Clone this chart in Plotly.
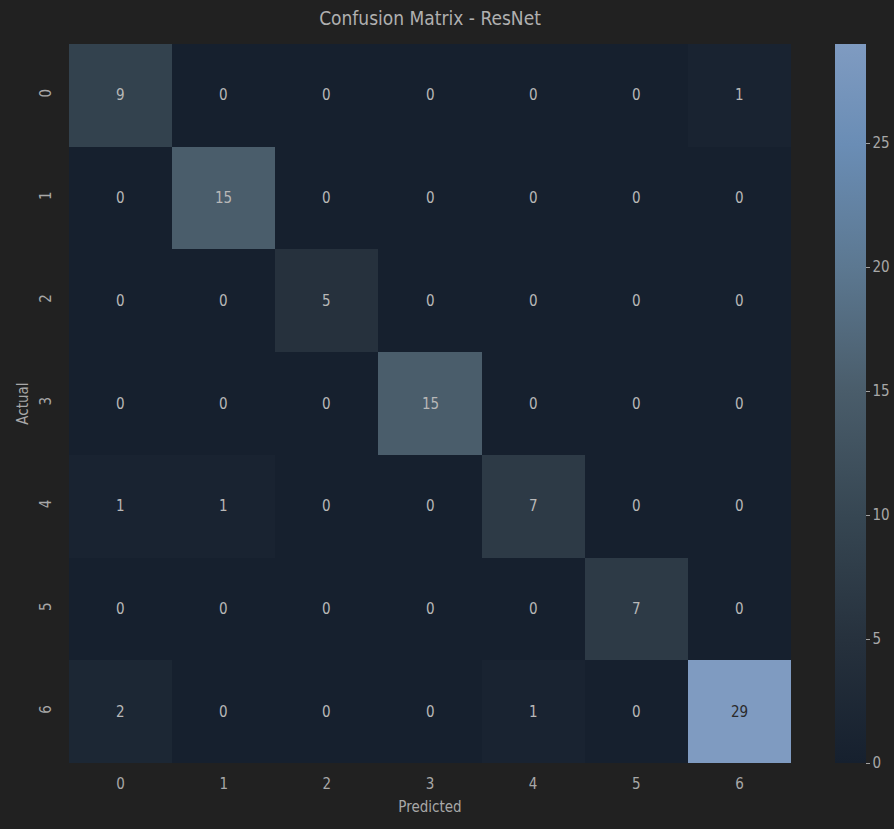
import plotly.graph_objects as go

labels = ["0", "1", "2", "3", "4", "5", "6"]
matrix = [
    [9, 0, 0, 0, 0, 0, 1],
    [0, 15, 0, 0, 0, 0, 0],
    [0, 0, 5, 0, 0, 0, 0],
    [0, 0, 0, 15, 0, 0, 0],
    [1, 1, 0, 0, 7, 0, 0],
    [0, 0, 0, 0, 0, 7, 0],
    [2, 0, 0, 0, 1, 0, 29],
]
colorbar_ticks = [0, 5, 10, 15, 20, 25]

FONT = "DejaVu Sans Condensed, Liberation Sans Narrow, Liberation Sans, sans-serif"
BG = "#212121"
TXT = "#a8a8a8"

colorscale = [
    [0.0, "#16202e"],
    [0.17, "#26313d"],
    [0.34, "#364652"],
    [0.52, "#4a5d6b"],
    [0.69, "#5c7891"],
    [0.86, "#6a8db5"],
    [1.0, "#7f9bc1"],
]

vmax = max(max(r) for r in matrix)

fig = go.Figure(go.Heatmap(
    z=matrix, x=labels, y=labels,
    colorscale=colorscale, zmin=0, zmax=vmax,
    colorbar=dict(
        thickness=31, len=1.0, lenmode="fraction", y=0.5, yanchor="middle",
        xref="container", x=835 / 894, xanchor="left", xpad=0, ypad=0,
        outlinewidth=0,
        tickvals=colorbar_ticks, ticks="outside", ticklen=4, tickcolor="#a0a0a0",
        tickfont=dict(family=FONT, size=15, color=TXT),
    ),
    hoverinfo="skip",
))

annotations = []
for i, row in enumerate(matrix):
    for j, v in enumerate(row):
        annotations.append(dict(
            x=labels[j], y=labels[i], text=str(v), showarrow=False,
            font=dict(family=FONT, size=15,
                      color="#2a2a2a" if v > vmax * 0.6 else "#b8b8b8"),
        ))

fig.update_layout(
    width=894, height=829,
    paper_bgcolor=BG, plot_bgcolor=BG,
    margin=dict(l=69, r=103, t=44, b=66, autoexpand=False),
    title=dict(text="Confusion Matrix - ResNet", x=(69 + 361) / 894, xanchor="center",
               y=1 - 18 / 829, yanchor="middle",
               font=dict(family=FONT, size=19, color="#b0b0b0")),
    annotations=annotations,
    xaxis=dict(title=dict(text="Predicted", font=dict(family=FONT, size=15, color=TXT), standoff=9),
               tickfont=dict(family=FONT, size=15, color=TXT),
               showgrid=False, zeroline=False, ticks="", ticklabelstandoff=10),
    yaxis=dict(title=dict(text="Actual", font=dict(family=FONT, size=15, color=TXT), standoff=4),
               tickfont=dict(family=FONT, size=15, color=TXT),
               autorange="reversed", tickangle=-90,
               showgrid=False, zeroline=False, ticks="", ticklabelstandoff=14),
    font=dict(family=FONT),
)

fig.write_html("out.html")
